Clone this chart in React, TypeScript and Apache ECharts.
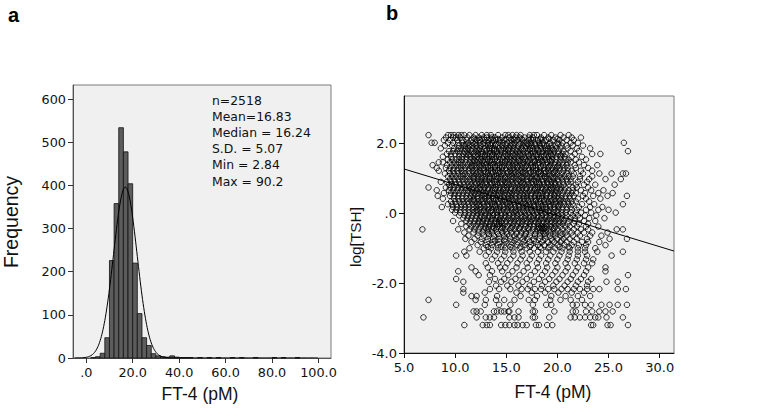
import React, { useEffect, useRef } from "react";
import * as echarts from "echarts";

// ---------- Panel a: histogram of FT-4 ----------
const binWidth = 2;
const histBinStart = [2, 4, 6, 8, 10, 12, 14, 16, 18, 20, 22, 24, 26, 28, 30, 32, 34, 36, 38, 40, 42, 44, 48, 52, 56, 62, 66, 72, 80, 84, 90];
const histCounts = [1, 3, 11, 47, 226, 358, 534, 478, 404, 220, 103, 47, 29, 10, 5, 3, 2, 5, 2, 1, 1, 1, 1, 1, 1, 1, 1, 1, 1, 1, 1];
const sampleN = 2518;
const sampleMean = 16.83;
const sampleSD = 5.07;
const statLines = ["n=2518", "Mean=16.83", "Median = 16.24", "S.D. = 5.07", "Min = 2.84", "Max = 90.2"];
const histXTicks = [0, 20, 40, 60, 80, 100];
const histYTicks = [0, 100, 200, 300, 400, 500, 600];

// ---------- Panel b: scatter FT-4 vs log[TSH] ----------
const scatterXTicks = [5, 10, 15, 20, 25, 30];
const scatterYTicks = [-4, -2, 0, 2];
const fitLineX = [5, 31.4];
const fitLineY = [1.27, -1.08];
const scatterRows: [number, number[]][] = [
  [2.24, [7.4, 9.3, 9.6, 9.9, 10.3, 10.6, 10.9, 11.4, 12.0, 12.6, 13.1, 13.5, 14.2, 14.9, 15.2, 15.6, 16.0, 16.4, 17.3, 17.7, 18.0, 18.7, 19.4, 20.3, 21.1]],
  [2.17, [9.1, 9.8, 10.1, 10.5, 11.2, 11.8, 12.3, 12.8, 13.1, 13.6, 13.9, 14.6, 15.3, 15.9, 16.3, 16.8, 17.2, 17.6, 18.4, 19.1, 19.8, 20.6, 21.4, 22.3]],
  [2.10, [8.9, 9.5, 10.2, 10.7, 11.1, 11.6, 12.1, 12.4, 12.9, 13.3, 13.7, 14.0, 14.4, 14.8, 15.5, 15.8, 16.1, 16.6, 17.2, 17.6, 18.1, 18.5, 18.9, 19.6, 20.2, 20.9, 21.6]],
  [2.02, [7.7, 8.0, 9.3, 9.8, 10.3, 10.7, 11.3, 11.7, 12.0, 12.4, 12.8, 13.2, 13.6, 14.3, 14.7, 15.1, 15.5, 15.8, 16.4, 16.7, 17.0, 17.4, 17.8, 18.2, 18.6, 19.3, 20.0, 20.5, 21.3, 22.0, 26.5]],
  [1.94, [9.0, 9.7, 10.4, 10.8, 11.0, 11.4, 11.7, 12.1, 12.5, 12.9, 13.2, 13.5, 13.9, 14.2, 14.6, 15.0, 15.4, 15.7, 16.2, 16.6, 16.9, 17.2, 17.5, 17.9, 18.3, 18.7, 19.0, 19.4, 19.8, 20.4, 20.9, 21.5, 22.5]],
  [1.86, [8.6, 9.9, 10.3, 10.6, 11.0, 11.3, 11.7, 12.1, 12.4, 12.9, 13.3, 13.6, 13.9, 14.3, 14.7, 15.0, 15.3, 15.7, 16.1, 16.5, 16.9, 17.3, 17.6, 18.0, 18.4, 18.8, 19.1, 19.5, 19.9, 20.3, 21.0, 21.9, 23.2]],
  [1.78, [9.4, 9.8, 10.2, 10.5, 10.9, 11.2, 11.6, 12.0, 12.3, 12.6, 13.0, 13.4, 13.8, 14.1, 14.5, 14.9, 15.2, 15.6, 16.0, 16.3, 16.7, 17.1, 17.5, 17.8, 18.2, 18.6, 19.0, 19.3, 19.7, 20.1, 20.6, 21.3, 22.1, 26.9]],
  [1.70, [9.2, 9.6, 10.0, 10.4, 10.8, 11.1, 11.4, 11.8, 12.2, 12.5, 12.7, 13.1, 13.4, 13.7, 14.1, 14.4, 14.9, 15.2, 15.6, 15.9, 16.3, 16.6, 17.1, 17.4, 17.8, 18.1, 18.5, 18.9, 19.3, 19.6, 20.1, 20.5, 20.8, 21.7, 23.4, 24.2]],
  [1.62, [8.8, 9.6, 10.4, 10.7, 11.1, 11.5, 11.9, 12.2, 12.6, 12.9, 13.3, 13.6, 14.0, 14.3, 14.7, 15.1, 15.4, 15.8, 16.1, 16.5, 16.8, 17.2, 17.6, 18.0, 18.4, 18.7, 19.1, 19.5, 19.9, 20.3, 20.7, 21.4, 22.4]],
  [1.54, [9.3, 9.7, 10.1, 10.4, 10.7, 11.1, 11.5, 11.8, 12.2, 12.5, 12.9, 13.2, 13.6, 13.9, 14.4, 14.7, 15.1, 15.4, 15.8, 16.2, 16.6, 16.9, 17.3, 17.7, 18.1, 18.4, 18.8, 19.2, 19.5, 19.9, 20.3, 20.8, 21.1, 21.8, 22.8]],
  [1.46, [8.4, 8.8, 9.5, 9.9, 10.3, 10.6, 11.0, 11.4, 11.7, 12.1, 12.4, 12.8, 13.1, 13.5, 13.8, 14.2, 14.6, 14.9, 15.3, 15.7, 16.0, 16.4, 16.7, 17.1, 17.5, 17.8, 18.2, 18.6, 19.0, 19.4, 19.8, 20.2, 20.5, 21.0, 21.3, 22.1]],
  [1.38, [7.8, 9.2, 9.7, 10.1, 10.5, 10.8, 11.2, 11.6, 11.9, 12.3, 12.6, 13.0, 13.4, 13.7, 14.1, 14.4, 14.8, 15.2, 15.6, 15.9, 16.3, 16.6, 17.0, 17.4, 17.8, 18.1, 18.6, 18.9, 19.3, 19.7, 20.1, 20.5, 20.9, 21.7, 22.6, 23.9]],
  [1.30, [8.2, 9.1, 9.5, 9.9, 10.3, 10.6, 11.0, 11.4, 11.7, 12.1, 12.5, 12.8, 13.2, 13.5, 13.9, 14.3, 14.6, 15.0, 15.4, 15.7, 16.1, 16.5, 16.8, 17.2, 17.6, 17.9, 18.3, 18.7, 19.1, 19.5, 19.9, 20.2, 20.7, 21.0, 21.8, 23.0]],
  [1.22, [8.4, 9.4, 9.8, 10.2, 10.6, 10.9, 11.3, 11.7, 12.0, 12.4, 12.8, 13.2, 13.5, 13.9, 14.2, 14.6, 15.0, 15.4, 15.7, 16.1, 16.4, 16.8, 17.2, 17.6, 17.9, 18.3, 18.7, 19.1, 19.4, 19.8, 20.2, 20.6, 21.0, 21.4, 22.3, 23.4]],
  [1.14, [9.0, 9.5, 9.9, 10.3, 10.7, 11.0, 11.4, 11.8, 12.1, 12.5, 12.9, 13.2, 13.6, 14.0, 14.3, 14.7, 15.1, 15.5, 15.8, 16.2, 16.6, 16.9, 17.3, 17.7, 18.1, 18.4, 18.8, 19.2, 19.6, 20.0, 20.4, 20.9, 21.6, 22.5, 24.1, 25.3, 26.4, 26.7]],
  [1.06, [9.3, 9.7, 10.1, 10.5, 10.8, 11.2, 11.6, 11.9, 12.3, 12.7, 13.0, 13.4, 13.8, 14.1, 14.5, 14.9, 15.3, 15.6, 16.0, 16.4, 16.7, 17.1, 17.5, 17.9, 18.3, 18.7, 19.0, 19.4, 19.8, 20.2, 20.7, 21.1, 21.5, 22.2, 23.4]],
  [0.98, [9.5, 9.9, 10.3, 10.7, 11.0, 11.4, 11.8, 12.2, 12.5, 12.9, 13.3, 13.6, 14.0, 14.4, 14.7, 15.1, 15.5, 15.9, 16.2, 16.6, 17.0, 17.4, 17.7, 18.1, 18.5, 18.9, 19.2, 19.6, 20.0, 20.5, 20.9, 21.3, 22.2, 23.1, 24.7, 26.2]],
  [0.90, [8.6, 9.2, 9.6, 10.0, 10.4, 10.8, 11.2, 11.5, 11.9, 12.3, 12.6, 13.0, 13.4, 13.8, 14.1, 14.5, 14.9, 15.2, 15.6, 16.0, 16.4, 16.7, 17.1, 17.5, 17.9, 18.2, 18.6, 19.0, 19.4, 19.7, 20.1, 20.5, 21.0, 21.3, 22.0, 22.9]],
  [0.82, [9.4, 9.7, 10.1, 10.5, 10.9, 11.3, 11.6, 12.0, 12.4, 12.7, 13.1, 13.5, 13.9, 14.2, 14.6, 15.0, 15.3, 15.7, 16.1, 16.5, 16.8, 17.2, 17.6, 18.0, 18.3, 18.7, 19.1, 19.4, 19.8, 20.2, 20.6, 21.1, 21.8, 22.6, 23.7, 25.6]],
  [0.74, [7.4, 9.1, 9.5, 9.9, 10.3, 10.7, 11.0, 11.4, 11.8, 12.2, 12.5, 12.9, 13.3, 13.7, 14.0, 14.4, 14.8, 15.1, 15.5, 15.9, 16.3, 16.6, 17.0, 17.4, 17.8, 18.1, 18.5, 18.9, 19.3, 19.6, 20.0, 20.4, 20.8, 21.5, 21.9, 23.0]],
  [0.66, [8.2, 9.4, 9.8, 10.2, 10.6, 11.0, 11.3, 11.7, 12.1, 12.5, 12.8, 13.2, 13.6, 13.9, 14.3, 14.7, 15.0, 15.4, 15.8, 16.2, 16.5, 16.9, 17.3, 17.7, 18.0, 18.4, 18.8, 19.2, 19.5, 19.9, 20.3, 20.7, 21.1, 21.5, 22.3, 23.3, 24.5]],
  [0.58, [8.9, 9.6, 10.0, 10.4, 10.8, 11.2, 11.6, 11.9, 12.3, 12.7, 13.0, 13.4, 13.8, 14.2, 14.5, 14.9, 15.3, 15.6, 16.0, 16.4, 16.8, 17.1, 17.5, 17.9, 18.3, 18.6, 19.0, 19.4, 19.8, 20.1, 20.5, 21.0, 21.4, 21.8, 22.7, 24.0, 25.4]],
  [0.50, [8.3, 9.5, 9.9, 10.3, 10.7, 11.1, 11.5, 11.8, 12.2, 12.6, 12.9, 13.3, 13.7, 14.1, 14.4, 14.8, 15.2, 15.5, 15.9, 16.3, 16.7, 17.0, 17.4, 17.8, 18.2, 18.5, 18.9, 19.3, 19.7, 20.0, 20.4, 20.8, 21.2, 21.6, 22.5, 23.5, 24.9, 26.8]],
  [0.42, [8.8, 9.9, 10.3, 10.7, 11.1, 11.4, 11.8, 12.2, 12.6, 12.9, 13.3, 13.7, 14.0, 14.4, 14.8, 15.2, 15.5, 15.9, 16.3, 16.7, 17.0, 17.4, 17.8, 18.2, 18.5, 18.9, 19.3, 19.7, 20.1, 20.4, 20.8, 21.2, 22.0, 22.8, 24.2]],
  [0.34, [9.6, 10.0, 10.4, 10.8, 11.2, 11.6, 11.9, 12.3, 12.7, 13.1, 13.4, 13.8, 14.2, 14.6, 14.9, 15.3, 15.7, 16.1, 16.4, 16.8, 17.2, 17.6, 17.9, 18.3, 18.7, 19.1, 19.4, 19.8, 20.2, 20.6, 21.0, 21.4, 21.8, 23.1]],
  [0.26, [9.3, 9.7, 10.1, 10.6, 10.9, 11.3, 11.7, 12.1, 12.4, 12.8, 13.2, 13.6, 13.9, 14.3, 14.7, 15.1, 15.4, 15.8, 16.2, 16.6, 16.9, 17.3, 17.7, 18.1, 18.4, 18.8, 19.2, 19.6, 19.9, 20.3, 20.7, 21.1, 21.5, 22.4, 23.6, 26.4]],
  [0.18, [8.7, 9.8, 10.2, 10.6, 11.0, 11.4, 11.8, 12.1, 12.5, 12.9, 13.3, 13.7, 14.0, 14.4, 14.8, 15.2, 15.5, 15.9, 16.3, 16.7, 17.1, 17.4, 17.8, 18.2, 18.6, 18.9, 19.3, 19.7, 20.1, 20.5, 20.9, 21.3, 22.1, 23.2, 24.4]],
  [0.10, [9.7, 10.1, 10.5, 10.9, 11.3, 11.7, 12.1, 12.4, 12.8, 13.2, 13.6, 14.0, 14.3, 14.7, 15.1, 15.5, 15.9, 16.2, 16.6, 17.0, 17.4, 17.8, 18.2, 18.5, 18.9, 19.3, 19.7, 20.1, 20.5, 20.9, 21.4, 21.9, 22.8, 24.0, 25.0]],
  [0.02, [10.0, 10.5, 11.0, 11.4, 11.8, 12.2, 12.6, 13.0, 13.4, 13.7, 14.1, 14.5, 14.9, 15.3, 15.7, 16.0, 16.4, 16.8, 17.2, 17.6, 18.0, 18.4, 18.8, 19.2, 19.6, 20.0, 20.4, 20.8, 21.3, 21.8, 22.3, 23.3, 25.7]],
  [-0.06, [10.4, 10.9, 11.3, 11.7, 12.1, 12.5, 12.9, 13.3, 13.7, 14.1, 14.5, 14.9, 15.3, 15.7, 16.1, 16.5, 16.9, 17.3, 17.7, 18.1, 18.5, 18.9, 19.3, 19.7, 20.1, 20.5, 20.9, 21.5, 22.0, 22.7, 23.8]],
  [-0.14, [10.8, 11.2, 11.6, 12.0, 12.4, 12.8, 13.2, 13.6, 14.0, 14.4, 14.8, 15.2, 15.6, 16.0, 16.4, 16.8, 17.2, 17.6, 18.0, 18.4, 18.8, 19.2, 19.6, 20.0, 20.4, 20.8, 21.3, 21.7, 22.2, 23.1, 24.6]],
  [-0.22, [9.8, 11.1, 11.5, 11.9, 12.3, 12.7, 13.1, 13.5, 13.9, 14.3, 14.6, 15.0, 15.4, 15.8, 16.2, 16.6, 17.0, 17.4, 17.8, 18.2, 18.6, 19.0, 19.4, 19.8, 20.2, 20.6, 21.1, 21.7, 22.6, 23.7]],
  [-0.30, [10.6, 11.4, 11.8, 12.2, 12.6, 13.0, 13.4, 13.8, 14.1, 14.3, 14.6, 14.9, 15.3, 15.7, 16.1, 16.5, 16.9, 17.3, 17.7, 18.1, 18.5, 18.9, 19.3, 19.7, 20.1, 20.5, 21.0, 21.6, 22.1, 23.0]],
  [-0.38, [11.1, 11.6, 12.0, 12.5, 12.9, 13.3, 13.7, 14.1, 14.4, 14.7, 15.1, 15.6, 16.0, 16.4, 16.9, 17.3, 17.7, 18.1, 18.4, 18.7, 19.0, 19.4, 19.8, 20.3, 20.8, 21.2, 21.9, 22.8, 24.0]],
  [-0.46, [6.8, 10.3, 11.4, 11.9, 12.3, 12.8, 13.2, 13.6, 14.0, 14.5, 14.9, 15.4, 15.8, 16.3, 16.7, 17.2, 17.6, 18.0, 18.3, 18.6, 18.9, 19.2, 19.6, 20.0, 20.5, 21.0, 21.6, 22.3, 23.0, 25.8, 26.4]],
  [-0.55, [10.9, 11.8, 12.3, 12.7, 13.2, 13.6, 14.1, 14.6, 15.0, 15.5, 16.0, 16.5, 16.9, 17.4, 17.9, 18.3, 18.6, 18.9, 19.3, 19.8, 20.3, 20.8, 21.4, 22.0, 22.6, 23.4, 24.9]],
  [-0.64, [11.3, 12.2, 12.8, 13.3, 13.8, 14.3, 14.8, 15.3, 15.8, 16.3, 16.8, 17.3, 17.8, 18.3, 18.8, 19.3, 19.8, 20.3, 20.9, 21.5, 22.2, 23.2, 24.3]],
  [-0.73, [11.0, 11.9, 12.6, 13.2, 13.7, 14.3, 14.9, 15.4, 16.0, 16.6, 17.1, 17.7, 18.3, 18.8, 19.4, 20.0, 20.6, 21.2, 21.9, 22.9, 25.1, 26.8]],
  [-0.82, [11.6, 12.5, 13.1, 13.7, 14.3, 14.9, 15.5, 16.1, 16.7, 17.3, 17.9, 18.5, 19.1, 19.7, 20.3, 20.9, 21.6, 22.4, 23.0, 24.1]],
  [-0.91, [12.2, 13.0, 13.6, 14.2, 14.8, 15.5, 16.1, 16.8, 17.4, 18.1, 18.7, 19.3, 20.0, 20.7, 21.4, 22.1, 22.8, 24.7]],
  [-1.00, [11.4, 12.8, 13.5, 14.2, 14.9, 15.6, 16.3, 17.0, 17.7, 18.4, 19.1, 19.8, 20.5, 21.2, 22.0, 22.7, 23.7]],
  [-1.10, [10.9, 12.4, 13.3, 14.1, 14.9, 15.7, 16.5, 17.3, 18.1, 18.9, 19.6, 20.4, 21.2, 22.0, 22.7, 23.9, 26.4]],
  [-1.21, [10.1, 11.1, 13.0, 13.9, 14.8, 15.7, 16.6, 17.5, 18.4, 19.3, 20.2, 21.1, 22.0, 22.9, 25.3]],
  [-1.32, [13.6, 14.5, 15.4, 16.4, 17.3, 18.2, 19.1, 20.0, 21.0, 21.9, 22.8, 23.5]],
  [-1.43, [13.0, 14.2, 15.1, 16.1, 17.0, 18.0, 18.9, 19.8, 20.8, 21.7, 22.6, 23.4]],
  [-1.55, [11.6, 13.2, 14.4, 14.9, 16.0, 17.1, 18.1, 19.0, 20.0, 21.0, 22.0, 23.0, 24.7]],
  [-1.66, [10.3, 12.0, 13.6, 14.6, 15.6, 16.7, 17.8, 18.8, 19.8, 20.8, 21.8, 22.8, 24.7]],
  [-1.77, [12.3, 13.4, 15.2, 16.3, 17.4, 18.5, 19.5, 20.5, 21.5, 22.6, 26.9]],
  [-1.88, [10.1, 13.9, 14.8, 15.9, 17.0, 18.2, 19.2, 20.2, 21.3, 22.3, 23.3]],
  [-1.96, [10.8, 13.3, 14.5, 15.5, 16.6, 17.7, 18.8, 19.9, 21.0, 22.0, 23.0, 24.8, 25.9]],
  [-2.07, [14.0, 15.1, 16.2, 17.3, 18.5, 19.6, 20.7, 21.8, 22.9]],
  [-2.17, [10.8, 13.4, 14.3, 15.4, 16.5, 17.1, 17.8, 18.4, 19.1, 19.7, 20.4, 21.0, 21.6, 22.2, 22.9, 23.5, 24.1, 25.9, 26.7]],
  [-2.27, [10.8, 12.9, 16.0, 17.5, 18.8, 20.1, 21.4, 22.6]],
  [-2.37, [11.6, 12.1, 14.1, 16.4, 18.0, 19.4, 20.8, 22.0, 23.2]],
  [-2.48, [7.4, 12.0, 13.0, 14.0, 14.8, 15.8, 17.2, 17.8, 19.3, 20.3, 21.3, 22.4]],
  [-2.62, [10.1, 12.9, 14.3, 15.4, 17.6, 18.9, 19.4, 21.5, 21.9, 22.7, 23.3, 24.3, 25.1, 25.9, 26.8]],
  [-2.81, [11.8, 12.1, 12.5, 13.8, 14.1, 14.5, 14.8, 15.2, 15.3, 16.2, 17.6, 17.8, 19.7, 21.5, 21.8, 22.8, 23.4, 24.1, 24.7, 25.4]],
  [-2.98, [6.9, 12.1, 13.0, 13.4, 13.8, 15.3, 15.8, 16.2, 17.6, 17.8, 19.2, 21.3, 21.7, 22.2, 22.7, 23.2, 23.7, 24.0, 24.8, 26.4]],
  [-3.20, [10.9, 12.7, 13.1, 13.4, 14.5, 14.9, 15.3, 15.8, 16.1, 16.6, 17.0, 17.9, 18.2, 19.0, 19.5, 23.3, 23.5, 24.9, 25.2, 26.9]],
  // extra points that fill the dense central cloud
  [2.13, [11.9, 12.6, 13.5, 14.2, 15.0, 15.7, 16.5, 17.4, 18.3, 19.2, 20.0]],
  [1.98, [11.1, 11.9, 12.7, 13.4, 14.0, 14.9, 15.6, 16.3, 17.1, 17.8, 18.5, 19.2, 20.1]],
  [1.82, [11.5, 12.3, 13.1, 13.8, 14.5, 15.2, 15.9, 16.6, 17.3, 18.1, 18.9, 19.6]],
  [1.66, [11.3, 12.0, 12.9, 13.6, 14.3, 15.0, 15.7, 16.4, 17.2, 17.9, 18.7, 19.4, 20.3]],
  [1.50, [11.9, 12.7, 13.4, 14.1, 14.9, 15.6, 16.3, 17.1, 17.8, 18.5, 19.3]],
  [1.34, [11.6, 12.4, 13.2, 13.9, 14.6, 15.3, 16.1, 16.9, 17.6, 18.4, 19.2, 20.0]],
  [1.18, [12.2, 13.0, 13.7, 14.4, 15.2, 15.9, 16.6, 17.4, 18.2, 18.9, 19.7]],
  [1.02, [11.8, 12.6, 13.4, 14.2, 14.9, 15.7, 16.5, 17.3, 18.0, 18.8, 19.6, 20.4]],
  [0.86, [12.1, 12.9, 13.6, 14.4, 15.1, 15.9, 16.6, 17.4, 18.2, 19.0, 19.8]],
  [0.70, [11.6, 12.4, 13.2, 13.9, 14.7, 15.5, 16.2, 17.0, 17.8, 18.6, 19.4, 20.2]],
  [0.54, [12.0, 12.8, 13.5, 14.3, 15.1, 15.8, 16.6, 17.4, 18.1, 18.9, 19.7]],
  [0.38, [11.8, 12.5, 13.3, 14.0, 14.8, 15.6, 16.3, 17.1, 17.9, 18.7, 19.5, 20.3]],
  [0.22, [12.3, 13.1, 13.9, 14.6, 15.4, 16.2, 17.0, 17.7, 18.5, 19.3, 20.1]],
  [0.06, [12.0, 12.8, 13.5, 14.3, 15.1, 15.9, 16.7, 17.5, 18.3, 19.1, 19.9]],
  [-0.10, [12.6, 13.4, 14.2, 15.0, 15.8, 16.6, 17.4, 18.2, 19.0, 19.8]],
  [-0.26, [12.4, 13.2, 14.0, 14.5, 15.5, 16.3, 17.1, 17.9, 18.7, 19.5, 20.3]],
  [-0.42, [13.0, 13.8, 14.6, 15.5, 16.3, 17.1, 18.2, 18.5, 18.8, 19.7]],
  [-0.59, [13.3, 14.2, 15.1, 16.0, 16.9, 17.8, 18.7, 19.6, 20.5]],
  [-0.78, [13.9, 14.8, 15.8, 16.8, 17.7, 18.6, 19.5, 20.4]],
  [-0.96, [13.2, 14.5, 15.4, 16.4, 17.3, 18.3, 19.2, 20.2, 21.1]],
];

const LABEL_FONT = "DejaVu Sans";
const TITLE_FONT = "Liberation Sans, Arial, sans-serif";

function dotZero(v: number): string {
  if (v === 0) return ".0";
  return v.toFixed(1);
}

export default function App() {
  const ref = useRef<HTMLDivElement>(null);

  useEffect(() => {
    if (!ref.current) return;
    const chart = echarts.init(ref.current, undefined, { renderer: "svg" });

    const histData = histBinStart.map((s, i) => [s, s + binWidth, histCounts[i]]);
    const curveData: number[][] = [];
    for (let x = -5; x <= 100; x += 0.25) {
      const z = (x - sampleMean) / sampleSD;
      curveData.push([x, (sampleN * binWidth) / (sampleSD * Math.sqrt(2 * Math.PI)) * Math.exp(-0.5 * z * z)]);
    }
    const scatterData: number[][] = [];
    scatterRows.forEach(([y, xs]) => xs.forEach((x) => scatterData.push([x, y])));

    const axisLabelA = { fontFamily: LABEL_FONT, fontSize: 12.8, color: "#111" };

    chart.setOption({
      animation: false,
      backgroundColor: "#ffffff",
      grid: [
        { left: 73, top: 85, width: 258, height: 273, show: true, backgroundColor: "#f0f0f0", borderColor: "#7a7a7a", borderWidth: 1 },
        { left: 404, top: 96, width: 270, height: 257, show: true, backgroundColor: "#f0f0f0", borderColor: "#7a7a7a", borderWidth: 1 },
      ],
      xAxis: [
        {
          type: "value", gridIndex: 0, min: -5.7, max: 105.4,
          axisLine: { show: true, onZero: false, lineStyle: { color: "#555", width: 1 } },
          axisTick: { show: true, length: 5, lineStyle: { color: "#333" }, customValues: histXTicks },
          axisLabel: { ...axisLabelA, margin: 8, customValues: histXTicks, formatter: (v: number) => dotZero(v) },
          splitLine: { show: false },
        },
        {
          type: "value", gridIndex: 1, min: 5, max: 31.4,
          axisLine: { show: true, onZero: false, lineStyle: { color: "#111", width: 1 } },
          axisTick: { show: true, length: 5, lineStyle: { color: "#111" }, customValues: scatterXTicks },
          axisLabel: { fontFamily: LABEL_FONT, fontSize: 13, color: "#111", margin: 8, customValues: scatterXTicks, formatter: (v: number) => dotZero(v) },
          splitLine: { show: false },
        },
      ],
      yAxis: [
        {
          type: "value", gridIndex: 0, min: 0, max: 633,
          axisLine: { show: true, onZero: false, lineStyle: { color: "#555", width: 1 } },
          axisTick: { show: true, length: 5, lineStyle: { color: "#333" }, customValues: histYTicks },
          axisLabel: { ...axisLabelA, margin: 7, customValues: histYTicks, formatter: (v: number) => String(v) },
          splitLine: { show: false },
        },
        {
          type: "value", gridIndex: 1, min: -4, max: 3.36,
          axisLine: { show: true, onZero: false, lineStyle: { color: "#111", width: 1 } },
          axisTick: { show: true, length: 5, lineStyle: { color: "#111" }, customValues: scatterYTicks },
          axisLabel: { fontFamily: LABEL_FONT, fontSize: 13, color: "#111", margin: 7, customValues: scatterYTicks, formatter: (v: number) => dotZero(v) },
          splitLine: { show: false },
        },
      ],
      series: [
        {
          type: "custom", xAxisIndex: 0, yAxisIndex: 0, data: histData, encode: { x: [0, 1], y: 2 }, z: 2,
          renderItem: (_params: any, api: any) => {
            const p0 = api.coord([api.value(0), api.value(2)]);
            const p1 = api.coord([api.value(1), 0]);
            return {
              type: "rect",
              shape: { x: p0[0], y: p0[1], width: p1[0] - p0[0], height: p1[1] - p0[1] },
              style: { fill: "#5c5c5c", stroke: "#111", lineWidth: 0.8 },
            };
          },
        },
        {
          type: "line", xAxisIndex: 0, yAxisIndex: 0, data: curveData, showSymbol: false, symbol: "none", z: 3,
          lineStyle: { color: "#000", width: 1 }, clip: true,
        },
        {
          type: "scatter", xAxisIndex: 1, yAxisIndex: 1, data: scatterData, symbol: "circle", symbolSize: 5.5, z: 2,
          itemStyle: { color: "rgba(0,0,0,0)", borderColor: "#000", borderWidth: 1 },
        },
        {
          type: "line", xAxisIndex: 1, yAxisIndex: 1, data: fitLineX.map((x, i) => [x, fitLineY[i]]), showSymbol: false, symbol: "none", z: 4,
          lineStyle: { color: "#000", width: 1 },
        },
      ],
      graphic: [
        { type: "text", left: 8, top: 5, style: { text: "a", font: `bold 20px ${TITLE_FONT}`, fill: "#000" } },
        { type: "text", left: 386, top: 3, style: { text: "b", font: `bold 20px ${TITLE_FONT}`, fill: "#000" } },
        ...statLines.map((t, i) => ({
          type: "text", x: 212, y: 100.5 + i * 16.1,
          style: { text: t, font: `12.4px ${LABEL_FONT}`, fill: "#111", textVerticalAlign: "middle", textAlign: "left" },
        })),
        { type: "text", x: 200, y: 394, style: { text: "FT-4 (pM)", font: `17.5px ${TITLE_FONT}`, fill: "#111", textAlign: "center", textVerticalAlign: "middle" } },
        { type: "text", x: 553, y: 392, style: { text: "FT-4 (pM)", font: `17.5px ${TITLE_FONT}`, fill: "#111", textAlign: "center", textVerticalAlign: "middle" } },
        { type: "text", x: 11, y: 222, rotation: Math.PI / 2, style: { text: "Frequency", font: `19.5px ${TITLE_FONT}`, fill: "#111", textAlign: "center", textVerticalAlign: "middle" } },
        { type: "text", x: 355, y: 237, rotation: Math.PI / 2, style: { text: "log[TSH]", font: `15.4px ${TITLE_FONT}`, fill: "#111", textAlign: "center", textVerticalAlign: "middle" } },
      ],
    });

    return () => chart.dispose();
  }, []);

  return <div ref={ref} style={{ position: "absolute", left: 0, top: 0, width: 781, height: 419, background: "#fff" }} />;
}
